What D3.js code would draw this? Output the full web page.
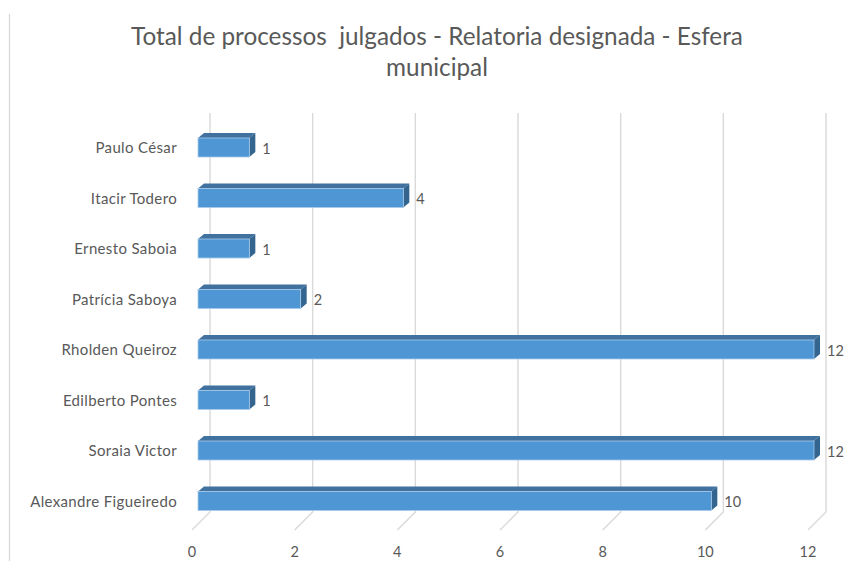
<!DOCTYPE html>
<html><head><meta charset="utf-8">
<script src="https://cdn.jsdelivr.net/npm/d3@7"></script>
<style>body{margin:0;background:#fff}svg{display:block}text{white-space:pre}</style>
</head><body>
<script>
const titleLines = ["Total de processos  julgados - Relatoria designada - Esfera", "municipal"];
const categories = ["Paulo César","Itacir Todero","Ernesto Saboia","Patrícia Saboya","Rholden Queiroz","Edilberto Pontes","Soraia Victor","Alexandre Figueiredo"];
const values = [1,4,1,2,12,1,12,10];
const ticks = [0,2,4,6,8,10,12];

const W=853,H=561;
const svg=d3.select("body").append("svg").attr("width",W).attr("height",H);
const font="Lato, 'Open Sans', sans-serif";
const grey="#595959";

// frame line on the left
svg.append("line").attr("x1",9.5).attr("x2",9.5).attr("y1",14).attr("y2",H).attr("stroke","#d9d9d9").attr("stroke-width",1.3);

// title
svg.append("g").selectAll("text").data(titleLines).join("text")
  .attr("x",437).attr("y",(d,i)=>45+i*31).attr("text-anchor","middle")
  .attr("font-family",font).attr("font-size",24.3).attr("fill",grey).text(d=>d);

const xBack=d3.scaleLinear().domain([0,12]).range([210,826]);
const floorDx=-18, floorDy=18;
const frontShift=-12;
const depthDx=6, depthDy=-5;
const gridTop=113, gridBottom=512;
const y=d3.scalePoint().domain(categories).range([147.5,501]);
const barH=19;

// gridlines with floor diagonals
const g=svg.append("g");
g.selectAll("path.grid").data(ticks).join("path").attr("class","grid")
  .attr("d",t=>`M${xBack(t)},${gridTop}V${gridBottom}L${xBack(t)+floorDx},${gridBottom+floorDy}`)
  .attr("fill","none").attr("stroke","#d9d9d9").attr("stroke-width",1.4);

// tick labels
svg.append("g").selectAll("text").data(ticks).join("text")
  .attr("x",t=>xBack(t)+floorDx).attr("y",557).attr("text-anchor","middle")
  .attr("font-family",font).attr("font-size",14.5).attr("fill",grey).text(t=>t);

// category labels
svg.append("g").selectAll("text").data(categories).join("text")
  .attr("x",177).attr("y",c=>y(c)+5.5).attr("text-anchor","end")
  .attr("font-family",font).attr("font-size",15).attr("letter-spacing",0.35).attr("fill",grey).text(c=>c);

// bars
const data=categories.map((c,i)=>({c,v:values[i]}));
const bars=svg.append("g").selectAll("g").data(data).join("g");
const x0=d=>xBack(0)+frontShift, x1=d=>xBack(d.v)+frontShift;
const barTop=d=>y(d.c)-barH/2;
bars.append("path").attr("d",d=>{const a=x0(d),b=x1(d),t=barTop(d);
  return `M${a},${t}L${a+depthDx},${t+depthDy}L${b+depthDx},${t+depthDy}L${b},${t}Z`;})
  .attr("fill","#41729f");
bars.append("path").attr("d",d=>{const b=x1(d),t=barTop(d);
  return `M${b},${t}L${b+depthDx},${t+depthDy}L${b+depthDx},${t+depthDy+barH}L${b},${t+barH}Z`;})
  .attr("fill","#33658f");
bars.append("rect").attr("x",x0).attr("y",barTop).attr("width",d=>x1(d)-x0(d)).attr("height",barH)
  .attr("fill","#4e96d4").attr("stroke","#a8caea").attr("stroke-width",0.8);
bars.append("text").attr("x",d=>x1(d)+depthDx+7).attr("y",d=>y(d.c)+6)
  .attr("font-family",font).attr("font-size",14.5).attr("fill",grey).text(d=>d.v);
</script>
</body></html>
